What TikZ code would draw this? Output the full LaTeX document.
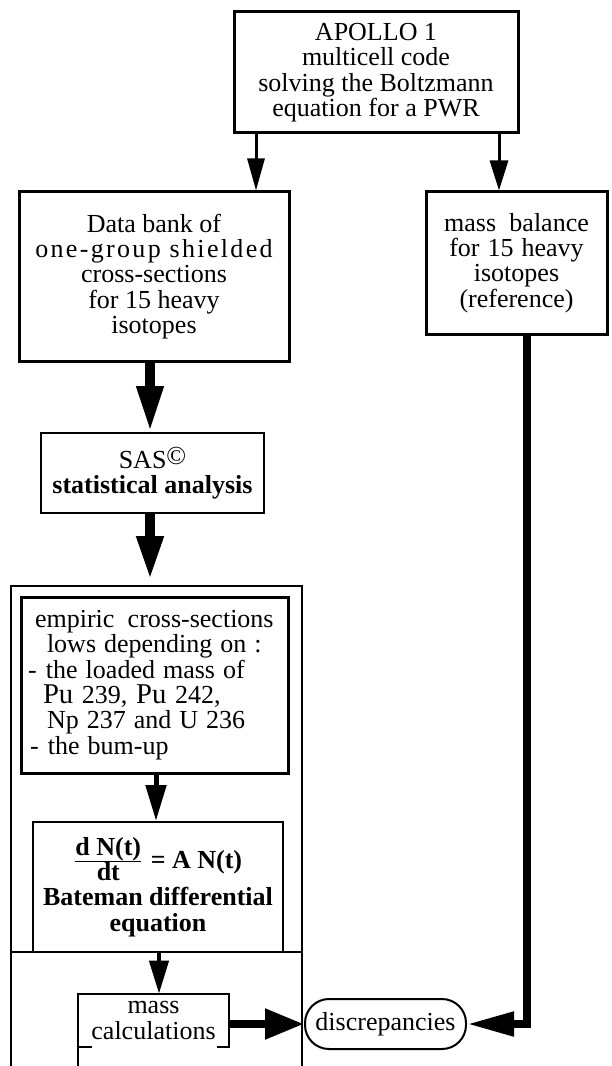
\documentclass[tikz,border=0pt]{standalone}
\usepackage{fontspec}
\setmainfont{Liberation Serif}
\usetikzlibrary{arrows.meta}
\tikzset{
  txt/.style={font=\fontsize{19.5}{19}\selectfont, align=center, inner sep=0pt},
  boxa/.style={txt, draw, line width=2.25pt},
  boxb/.style={txt, draw, line width=1.5pt},
  bline/.style={line width=1.5pt},
  oline/.style={line width=1.9pt},
  arrw/.style n args={3}{line width=#1, -{Triangle[length=#2,width=#3]}},
}
\begin{document}
\begin{tikzpicture}[x=0.75pt,y=-0.75pt]
\useasboundingbox[fill=white] (0,0) rectangle (611,1066);

% boxes
\node[boxa, minimum width=213pt, minimum height=90.75pt] (top) at (376,72.5)
  {APOLLO 1\\multicell code\\solving the Boltzmann\\equation for a PWR};
\node[boxa, minimum width=202.5pt, minimum height=126.75pt] (db) at (154,276.5)
  {Data bank of\\{\addfontfeatures{LetterSpace=9}one-group shielded}\\cross-sections\\for 15 heavy\\isotopes};
\node[boxa, minimum width=135.75pt, minimum height=106.5pt] (mb) at (516.5,263)
  {mass\hspace{10pt}balance\\for\hspace{6pt}15\hspace{6pt}heavy\\isotopes\\(reference)};
\node[boxb, minimum width=167.25pt, minimum height=60pt] (sas) at (152.5,473)
  {SAS\raisebox{3pt}{©}\\{\bfseries statistical analysis}};

% outer container
\coordinate (otl) at (11,586);
\coordinate (otr) at (302,586);
\coordinate (bot) at (0,1066);
\coordinate (ml) at (11,952);
\draw[oline] (otl |- bot) -- (otl) -- (otr) -- (otr |- bot);
\draw[oline] (ml) -- (ml -| otr);

\node[boxa, minimum width=200.25pt, minimum height=132pt, text width=189.75pt, align=left] (emp) at (154.5,685)
  {\hspace*{5.25pt}empiric\hspace{10pt}cross-sections\\
   \hspace*{14.25pt}lows\hspace{6pt}depending\hspace{6pt}on\hspace{6pt}:\\
   -\hspace{7pt}the\hspace{6pt}loaded\hspace{6pt}mass\hspace{6pt}of\\
   \hspace*{11.25pt}{\fontsize{21.5}{19}\selectfont Pu} 239, {\fontsize{21.5}{19}\selectfont Pu} 242,\\
   \hspace*{14.25pt}Np\hspace{6pt}237\hspace{6pt}and\hspace{6pt}U\hspace{6pt}236\\
   \hspace*{1.5pt}-\hspace{7pt}the\hspace{6pt}bum-up};
\node[boxb, minimum width=187.5pt, minimum height=97.5pt, font=\fontsize{19.5}{19}\selectfont\bfseries] (bat) at (158,887)
  {$\frac{\mbox{d N(t)}}{\mbox{dt}}$\hspace{6pt}= A N(t)\\[4pt]Bateman differential\\equation};

\node[txt, minimum width=113.25pt, minimum height=39.75pt] (mc) at (153.5,1020.5)
  {mass\\calculations};
\draw[bline] (mc.south east) ++(-9pt,0) -- (mc.south east) -- (mc.north east) -- (mc.north west) -- (mc.west |- bot);
\draw[bline] (mc.south west) -- ++(10.5pt,0);

\node[boxb, rounded corners=18pt, minimum width=120.75pt, minimum height=37.5pt] (disc) at (385.5,1024)
  {discrepancies};

% connectors
\coordinate (x1) at (256,0);
\coordinate (x2) at (499,0);
\coordinate (x3) at (150,0);
\coordinate (x5) at (156,0);
\coordinate (x6) at (159,0);
\coordinate (x8) at (527,0);
\draw[arrw={2.25pt}{24pt}{12.75pt}] (top.south -| x1) -- (db.north -| x1);
\draw[arrw={2.25pt}{22.5pt}{13.5pt}] (top.south -| x2) -- (mb.north -| x2);
\draw[arrw={7.5pt}{34.5pt}{18.75pt}] (db.south -| x3) -- (sas.north -| x3);
\draw[arrw={7.5pt}{33pt}{18.75pt}, shorten >=4.5pt] (sas.south -| x3) -- (otl -| x3);
\draw[arrw={3.75pt}{27pt}{15pt}] (emp.south -| x5) -- (bat.north -| x5);
\draw[arrw={3pt}{24.75pt}{14.25pt}] (ml -| x6) -- (mc.north -| x6);
\draw[arrw={6pt}{29.25pt}{21.75pt}] (mc.east |- disc.west) -- (disc.west);
\draw[arrw={6pt}{35.25pt}{17.25pt}] (mb.south -| x8) |- (disc.east);
\end{tikzpicture}
\end{document}
